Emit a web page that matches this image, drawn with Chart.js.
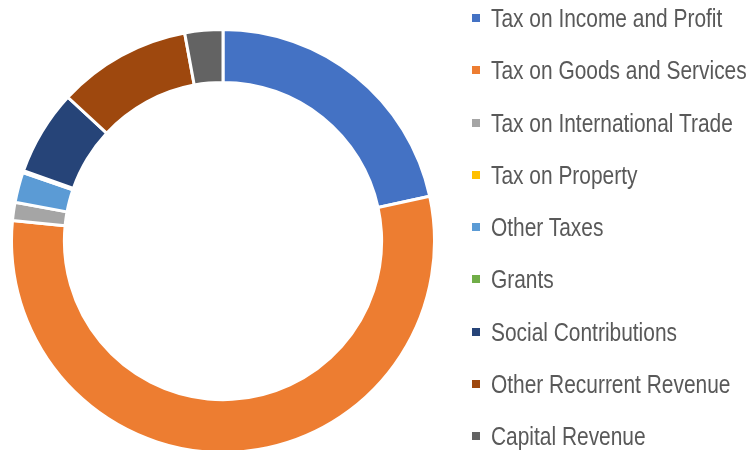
<!DOCTYPE html>
<html>
<head>
<meta charset="utf-8">
<script src="https://cdn.jsdelivr.net/npm/chart.js@4/dist/chart.umd.min.js"></script>
<style>
  html, body { margin: 0; padding: 0; background: #fff; overflow: hidden; }
  #wrap { position: relative; width: 752px; height: 450px; }
  #c { position: absolute; left: 0; top: 0; }
  #legend { position: absolute; left: 0; top: 0; width: 752px; height: 450px; pointer-events: none; }
  .item { position: absolute; left: 472px; height: 26px; white-space: nowrap; }
  .box { position: absolute; left: 0; top: 9px; width: 8px; height: 8px; }
  .txt { position: absolute; left: 19px; top: 0; line-height: 26px; font-size: 25.5px; color: #595959;
         font-family: "Liberation Sans Narrow", "Liberation Sans", Arial, sans-serif; transform-origin: 0 50%; }
</style>
</head>
<body>
<div id="wrap">
  <canvas id="c" width="752" height="450"></canvas>
  <div id="legend"></div>
</div>
<script>
const categories = [
  "Tax on Income and Profit",
  "Tax on Goods and Services",
  "Tax on International Trade",
  "Tax on Property",
  "Other Taxes",
  "Grants",
  "Social Contributions",
  "Other Recurrent Revenue",
  "Capital Revenue"
];
const shares = [21.6, 54.9, 1.4, 0, 2.3, 0.15, 6.5, 10.2, 2.9];
const colors = ["#4472C4", "#ED7D31", "#A5A5A5", "#FFC000", "#5B9BD5", "#70AD47", "#264478", "#9E480E", "#636363"];

const chart = new Chart(document.getElementById('c'), {
  type: 'doughnut',
  data: {
    labels: categories,
    datasets: [{
      data: shares,
      backgroundColor: colors,
      borderColor: '#ffffff',
      borderWidth: 3,
      hoverOffset: 0
    }]
  },
  options: {
    responsive: false,
    animation: false,
    radius: 211.5,
    cutout: '75%',
    rotation: 0,
    layout: { padding: { left: 0, right: 306, top: 32, bottom: 0 } },
    plugins: {
      legend: { display: false },
      tooltip: { enabled: false }
    }
  }
});

// HTML legend built from the chart's own legend items
function narrowAvailable() {
  const cv = document.createElement('canvas').getContext('2d');
  const s = 'Tax on Goods and Services';
  cv.font = '25px monospace';
  const a = cv.measureText(s).width;
  cv.font = '25px "Liberation Sans Narrow", monospace';
  const b = cv.measureText(s).width;
  return Math.abs(a - b) > 0.5;
}
const hasNarrow = narrowAvailable();
const items = Chart.overrides.doughnut.plugins.legend.labels.generateLabels(chart);
const leg = document.getElementById('legend');
items.forEach((it, i) => {
  const d = document.createElement('div');
  d.className = 'item';
  d.style.top = (5 + i * 52.25) + 'px';
  const b = document.createElement('div');
  b.className = 'box';
  b.style.background = it.fillStyle;
  const t = document.createElement('div');
  t.className = 'txt';
  t.textContent = it.text;
  if (!hasNarrow) {
    t.style.fontFamily = '"Liberation Sans", Arial, sans-serif';
    t.style.transform = 'scaleX(0.82)';
  }
  d.appendChild(b);
  d.appendChild(t);
  leg.appendChild(d);
});
</script>
</body>
</html>
